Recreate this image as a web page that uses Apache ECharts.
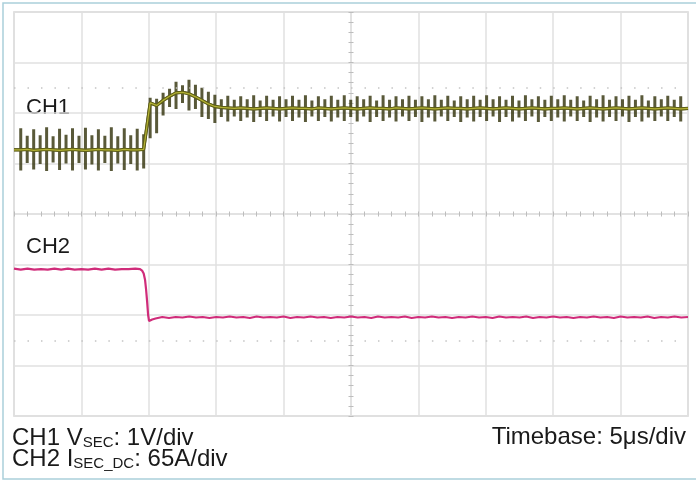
<!DOCTYPE html>
<html>
<head>
<meta charset="utf-8">
<script src="https://cdn.jsdelivr.net/npm/echarts@6/dist/echarts.min.js"></script>
<style>
  html, body { margin: 0; padding: 0; background: #ffffff; }
  #chart { width: 696px; height: 481px; }
</style>
</head>
<body>
<div id="chart"></div>
<script>
// ---- axis layout (time in µs relative to screen centre, amplitude in divisions) ----
const xMin = -25, xMax = 25, xInterval = 5;   // 10 div x 5 µs/div
const yMin = -4, yMax = 4, yInterval = 1;     // 8 vertical divisions

// ---- CH1 (V_SEC, 1 V/div) : ripple spikes ----
// first and last entries are the trace ends at the screen edges (no spike)
const ch1Time = [
-25.00,
-24.50,-24.02,-23.54,-23.06,-22.58,-22.10,-21.62,-21.14,-20.66,-20.18,
-19.70,-19.22,-18.74,-18.26,-17.78,-17.30,-16.82,-16.34,-15.86,-15.38,
-14.90,-14.42,-13.94,-13.46,-12.98,-12.50,-12.02,-11.54,-11.06,-10.58,
-10.10,-9.62,-9.14,-8.66,-8.18,-7.70,-7.22,-6.74,-6.26,-5.78,
-5.30,-4.82,-4.34,-3.86,-3.38,-2.90,-2.42,-1.94,-1.46,-0.98,
-0.50,-0.02,0.46,0.94,1.42,1.90,2.38,2.86,3.34,3.82,
4.30,4.78,5.26,5.74,6.22,6.70,7.18,7.66,8.14,8.62,
9.10,9.58,10.06,10.54,11.02,11.50,11.98,12.46,12.94,13.42,
13.90,14.38,14.86,15.34,15.82,16.30,16.78,17.26,17.74,18.22,
18.70,19.18,19.66,20.14,20.62,21.10,21.58,22.06,22.54,23.02,
23.50,23.98,24.46,
25.00];
const ch1Mid = [
1.27,
1.27,1.28,1.26,1.27,1.28,1.27,1.26,1.27,1.28,1.27,
1.26,1.27,1.28,1.27,1.27,1.26,1.28,1.27,1.27,1.28,
2.20,2.15,2.25,2.33,2.40,2.41,2.38,2.32,2.25,2.18,
2.13,2.11,2.10,2.09,2.10,2.09,2.08,2.09,2.10,2.09,
2.08,2.09,2.10,2.09,2.09,2.08,2.10,2.09,2.08,2.09,
2.10,2.09,2.08,2.09,2.10,2.09,2.09,2.08,2.10,2.09,
2.08,2.09,2.10,2.09,2.08,2.09,2.10,2.09,2.09,2.08,
2.09,2.10,2.09,2.08,2.09,2.10,2.09,2.08,2.09,2.10,
2.09,2.08,2.09,2.09,2.10,2.09,2.08,2.09,2.10,2.09,
2.08,2.09,2.10,2.09,2.08,2.09,2.10,2.09,2.08,2.09,
2.10,2.09,2.08,
2.09];
const ch1Hi = [
1.27,
1.70,1.55,1.68,1.56,1.72,1.54,1.69,1.57,1.70,1.55,
1.71,1.56,1.68,1.55,1.72,1.54,1.70,1.56,1.69,1.58,
2.30,2.28,2.40,2.48,2.62,2.55,2.66,2.56,2.50,2.42,
2.36,2.27,2.34,2.26,2.33,2.27,2.35,2.25,2.34,2.26,
2.33,2.27,2.34,2.26,2.35,2.25,2.33,2.27,2.34,2.26,
2.35,2.26,2.33,2.27,2.34,2.25,2.35,2.26,2.33,2.27,
2.34,2.26,2.33,2.27,2.35,2.26,2.34,2.25,2.33,2.27,
2.34,2.26,2.35,2.27,2.33,2.26,2.34,2.25,2.35,2.27,
2.33,2.26,2.34,2.27,2.35,2.26,2.33,2.25,2.34,2.27,
2.35,2.26,2.33,2.27,2.34,2.26,2.35,2.25,2.33,2.27,
2.34,2.26,2.33,
2.09];
const ch1Lo = [
1.27,
0.86,1.01,0.88,0.99,0.85,1.02,0.87,1.00,0.86,1.01,
0.88,0.98,0.86,1.01,0.85,1.00,0.87,0.99,0.86,0.90,
1.50,1.60,1.95,2.12,2.08,2.20,2.05,2.08,1.92,1.88,
1.80,1.92,1.83,1.93,1.84,1.91,1.82,1.92,1.84,1.93,
1.83,1.92,1.84,1.91,1.82,1.93,1.84,1.92,1.83,1.91,
1.84,1.92,1.83,1.93,1.82,1.92,1.84,1.91,1.83,1.93,
1.84,1.92,1.82,1.91,1.83,1.93,1.84,1.92,1.82,1.91,
1.83,1.92,1.84,1.93,1.82,1.92,1.83,1.91,1.84,1.93,
1.82,1.92,1.84,1.91,1.83,1.93,1.84,1.92,1.82,1.91,
1.83,1.92,1.84,1.93,1.82,1.92,1.83,1.91,1.84,1.93,
1.84,1.92,1.83,
2.09];

// ---- CH2 (I_SEC_DC, 65 A/div) ----
const ch2Time = [
-25,-24.5,-24,-23.5,-23,-22.5,-22,-21.5,-21,-20.5,
-20,-19.5,-19,-18.5,-18,-17.5,-17,-16.5,-16,
-15.65,-15.5,-15.38,-15.28,-15.2,-15.12,-15.05,-14.98,-14.9,-14.75,-14.5,
-14,-13.5,-13,-12.5,-12,-11.5,-11,-10.5,-10,-9.5,
-9,-8.5,-8,-7.5,-7,-6.5,-6,-5.5,-5,-4.5,
-4,-3.5,-3,-2.5,-2,-1.5,-1,-0.5,0,0.5,
1,1.5,2,2.5,3,3.5,4,4.5,5,5.5,
6,6.5,7,7.5,8,8.5,9,9.5,10,10.5,
11,11.5,12,12.5,13,13.5,14,14.5,15,15.5,
16,16.5,17,17.5,18,18.5,19,19.5,20,20.5,
21,21.5,22,22.5,23,23.5,24,24.5,25];
const ch2Val = [
-1.08,-1.10,-1.08,-1.10,-1.09,-1.10,-1.08,-1.10,-1.08,-1.10,
-1.09,-1.10,-1.08,-1.10,-1.08,-1.10,-1.09,-1.09,-1.08,
-1.09,-1.12,-1.18,-1.30,-1.50,-1.75,-2.00,-2.12,-2.13,-2.09,-2.07,
-2.04,-2.06,-2.04,-2.05,-2.03,-2.05,-2.04,-2.06,-2.04,-2.05,
-2.03,-2.05,-2.04,-2.06,-2.03,-2.05,-2.04,-2.05,-2.03,-2.06,
-2.04,-2.05,-2.03,-2.05,-2.04,-2.06,-2.04,-2.05,-2.03,-2.05,
-2.04,-2.06,-2.03,-2.05,-2.04,-2.05,-2.03,-2.06,-2.04,-2.05,
-2.03,-2.05,-2.04,-2.06,-2.04,-2.05,-2.03,-2.05,-2.04,-2.06,
-2.03,-2.05,-2.04,-2.05,-2.03,-2.06,-2.04,-2.05,-2.03,-2.05,
-2.04,-2.06,-2.04,-2.05,-2.03,-2.05,-2.04,-2.06,-2.03,-2.05,
-2.04,-2.05,-2.03,-2.06,-2.04,-2.05,-2.03,-2.05,-2.04];

// ---- minor graticule rows (divisions) ----
const dottedRows = [2.5, -2.5];

// ---- texts ----
const ch1Label = 'CH1';
const ch2Label = 'CH2';
const timebaseText = 'Timebase: 5μs/div';

// build line data
const ch1Spikes = [];
const ch1Centre = [];
for (let k = 0; k < ch1Time.length; k++) {
  ch1Spikes.push([ch1Time[k], ch1Mid[k]], [ch1Time[k], ch1Hi[k]], [ch1Time[k], ch1Lo[k]], [ch1Time[k], ch1Mid[k]]);
  ch1Centre.push([ch1Time[k], ch1Mid[k]]);
}
const ch2Data = ch2Time.map((t, i) => [t, ch2Val[i]]);

const FONT = '"Liberation Sans", Arial, Helvetica, sans-serif';
const chart = echarts.init(document.getElementById('chart'), null, { renderer: 'canvas' });

const tickStyle = { color: '#bdbdbd', width: 1 };
const gridColor = '#e0e0e0';
chart.setOption({
  animation: false,
  backgroundColor: '#ffffff',
  grid: { left: 14, top: 12, right: 8, bottom: 65, show: true, borderColor: '#d2d2d2', borderWidth: 1.5, containLabel: false },
  xAxis: [
    { type: 'value', min: xMin, max: xMax, interval: xInterval, position: 'bottom',
      axisLine: { show: true, onZero: true, lineStyle: { color: gridColor, width: 1.5 } },
      axisTick: { show: true, length: 2.5, lineStyle: tickStyle },
      minorTick: { show: true, splitNumber: 5, length: 2.5, lineStyle: tickStyle },
      axisLabel: { show: false },
      splitLine: { show: true, lineStyle: { color: gridColor, width: 1.5 } } },
    { type: 'value', min: xMin, max: xMax, interval: xInterval, position: 'top',
      axisLine: { show: false, onZero: true },
      axisTick: { show: true, length: 2.5, lineStyle: tickStyle },
      minorTick: { show: true, splitNumber: 5, length: 2.5, lineStyle: tickStyle },
      axisLabel: { show: false }, splitLine: { show: false } }
  ],
  yAxis: [
    { type: 'value', min: yMin, max: yMax, interval: yInterval, position: 'left',
      axisLine: { show: true, onZero: true, lineStyle: { color: gridColor, width: 1.5 } },
      axisTick: { show: true, length: 2.5, lineStyle: tickStyle },
      minorTick: { show: true, splitNumber: 5, length: 2.5, lineStyle: tickStyle },
      axisLabel: { show: false },
      splitLine: { show: true, lineStyle: { color: gridColor, width: 1.5 } } },
    { type: 'value', min: yMin, max: yMax, interval: yInterval, position: 'right',
      axisLine: { show: false, onZero: true },
      axisTick: { show: true, length: 2.5, lineStyle: tickStyle },
      minorTick: { show: true, splitNumber: 5, length: 2.5, lineStyle: tickStyle },
      axisLabel: { show: false }, splitLine: { show: false } }
  ],
  series: [
    { type: 'line', name: 'CH2', data: ch2Data, showSymbol: false, symbol: 'none',
      lineStyle: { color: '#d02c7a', width: 2.2 },
      markLine: { silent: true, symbol: ['none', 'none'], label: { show: false },
        lineStyle: { color: '#c4c4c4', width: 1.5, type: [1.5, 11.98] },
        data: dottedRows.map(v => ({ yAxis: v })) } },
    { type: 'line', name: 'CH1 ripple', data: ch1Spikes, showSymbol: false, symbol: 'none',
      lineStyle: { color: 'rgba(48,48,8,0.8)', width: 3 } },
    { type: 'line', name: 'CH1 trace', data: ch1Centre, showSymbol: false, symbol: 'none',
      lineStyle: { color: '#5e5e14', width: 3.2 } },
    { type: 'line', name: 'CH1', data: ch1Centre, showSymbol: false, symbol: 'none',
      lineStyle: { color: '#b3b236', width: 1.2 } }
  ],
  graphic: [
    { type: 'rect', silent: true, shape: { x: 3, y: 3, width: 700, height: 476 },
      style: { fill: 'none', stroke: '#aacfda', lineWidth: 1.5 } },
    { type: 'text', x: 26, y: 108, style: { text: ch1Label, font: '22px ' + FONT, fill: '#1a1a1a', verticalAlign: 'middle' } },
    { type: 'text', x: 26, y: 247, style: { text: ch2Label, font: '22px ' + FONT, fill: '#1a1a1a', verticalAlign: 'middle' } },
    { type: 'text', x: 12, y: 438, style: {
        text: '{m|CH1 V}{s|SEC}{m|: 1V/div}', verticalAlign: 'middle', fill: '#1a1a1a',
        rich: { m: { fontSize: 24, fontFamily: FONT, lineHeight: 24, fill: '#1a1a1a' },
                s: { fontSize: 15, fontFamily: FONT, lineHeight: 11, verticalAlign: 'bottom', fill: '#1a1a1a' } } } },
    { type: 'text', x: 12, y: 459, style: {
        text: '{m|CH2 I}{s|SEC_DC}{m|: 65A/div}', verticalAlign: 'middle', fill: '#1a1a1a',
        rich: { m: { fontSize: 24, fontFamily: FONT, lineHeight: 24, fill: '#1a1a1a' },
                s: { fontSize: 15, fontFamily: FONT, lineHeight: 11, verticalAlign: 'bottom', fill: '#1a1a1a' } } } },
    { type: 'text', x: 686, y: 437, style: { text: timebaseText, font: '24px ' + FONT, fill: '#1a1a1a', align: 'right', verticalAlign: 'middle' } }
  ]
});
</script>
</body>
</html>
